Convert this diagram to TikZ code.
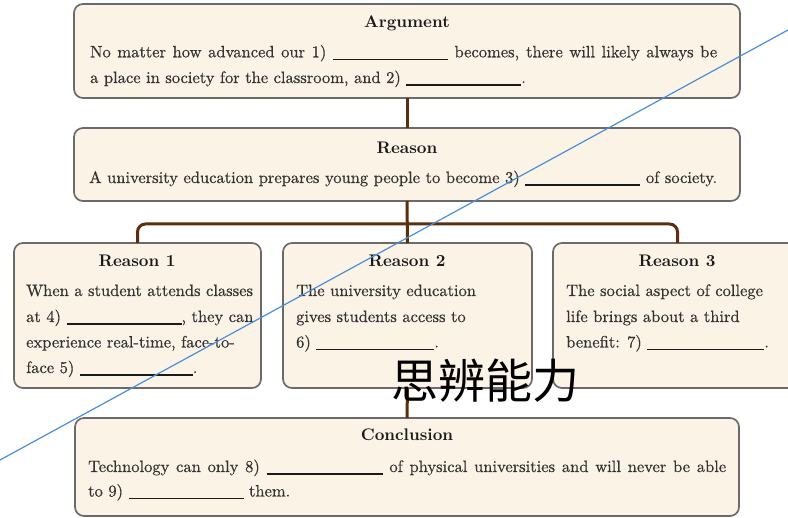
\documentclass[tikz,border=0pt]{standalone}
\usepackage{fontspec}
\setmainfont{lmroman10-regular.otf}[BoldFont=lmroman10-bold.otf]
\newfontfamily\bodyfont{lmroman10-regular.otf}[FakeBold=0.6]
\newfontfamily\cjk{Noto Sans CJK SC}
\usetikzlibrary{calc}
\definecolor{boxfill}{HTML}{FCF3E7}
\definecolor{boxgray}{HTML}{6A6A6A}
\definecolor{connbrown}{HTML}{5C2E0E}
\definecolor{textc}{HTML}{333333}
\definecolor{titlec}{HTML}{1A1A1A}
\definecolor{bluel}{HTML}{4A8FD8}
\newcommand\blankline[1]{{\color{titlec}\rule[-2.8pt]{#1pt}{1.5pt}}}
\newcommand\spreadline[2]{\makebox[#1pt][s]{#2}}
\tikzset{
  box/.style={draw=boxgray, line width=1.7pt, fill=boxfill, rounded corners=9pt, inner sep=0pt, outer sep=0pt},
  conn/.style={draw=connbrown, line width=3pt},
  title/.style={anchor=base, inner sep=0pt, text=titlec, font=\fontsize{16.8}{20}\selectfont\bfseries},
  line/.style={anchor=base west, inner sep=0pt, text=textc, font=\bodyfont\fontsize{16.5}{20}\selectfont},
  blueline/.style={draw=bluel, line width=1.2pt},
}
\begin{document}
\begin{tikzpicture}[x=1pt,y=-1pt]
\clip (0,0) rectangle (788,518);
\fill[white] (0,0) rectangle (788,518);
% boxes
\node[box, minimum width=666pt, minimum height=94pt] (arg) at (407,51) {};
\node[box, minimum width=666pt, minimum height=73pt] (rea) at (407,164.5) {};
\node[box, minimum width=247pt, minimum height=145pt] (r1) at (137.5,315.5) {};
\node[box, minimum width=249pt, minimum height=145pt] (r2) at (407.5,315.5) {};
\node[box, minimum width=249pt, minimum height=145pt] (r3) at (677.5,315.5) {};
\node[box, minimum width=664pt, minimum height=98pt] (con) at (407,467) {};
% connectors
\coordinate (bar) at (407,224);
\draw[conn] (arg.south) -- (rea.north);
\draw[conn] (rea.south) -- (r2.north);
\draw[conn, rounded corners=8pt] (r1.north) |- (bar) -| (r3.north);
\draw[conn] (r2.south) -- (con.north);
% Argument
\node[title] (argt) at (407,28) {Argument};
\node[line] (arg1) at (90,57.3) {\spreadline{627}{No matter how advanced our 1) \blankline{115} becomes, there will likely always be}};
\node[line] (arg2) at (90,83) {a place in society for the classroom, and 2) \blankline{115}.};
% Reason
\node[title] (reat) at (407,154) {Reason};
\node[line] (rea1) at (89,183) {\spreadline{628}{A university education prepares young people to become 3) \blankline{115} of society.}};
% Reason 1
\node[title] (r1t) at (137,267) {Reason 1};
\node[line] (r1a) at (26,296) {When a student attends classes};
\node[line] (r1b) at (26,322) {at 4) \blankline{115}, they can};
\node[line] (r1c) at (26,347.5) {experience real-time, face-to-};
\node[line] (r1d) at (26,373) {face 5) \blankline{113}.};
% Reason 2
\node[title] (r2t) at (407,267) {Reason 2};
\node[line] (r2a) at (296,296) {The university education};
\node[line] (r2b) at (296,322) {gives students access to};
\node[line] (r2c) at (296,347.5) {6) \blankline{118}.};
% Reason 3
\node[title] (r3t) at (677,267) {Reason 3};
\node[line] (r3a) at (566,296) {The social aspect of college};
\node[line] (r3b) at (566,322) {life brings about a third};
\node[line] (r3c) at (566,347.5) {benefit: 7) \blankline{117}.};
% Conclusion
\node[title] (cont) at (407,441) {Conclusion};
\node[line] (con1) at (88,472) {\spreadline{638}{Technology can only 8) \blankline{116} of physical universities and will never be able}};
\node[line] (con2) at (88,496.5) {to 9) \blankline{115} them.};
% overlays
\coordinate (bl1) at (0,460);
\coordinate (bl2) at (788,30);
\draw[blueline] (bl1) -- (bl2);
\node[inner sep=0pt, font=\cjk\fontsize{47}{47}\selectfont] (cn) at (485,381) {思辨能力};
\end{tikzpicture}
\end{document}
